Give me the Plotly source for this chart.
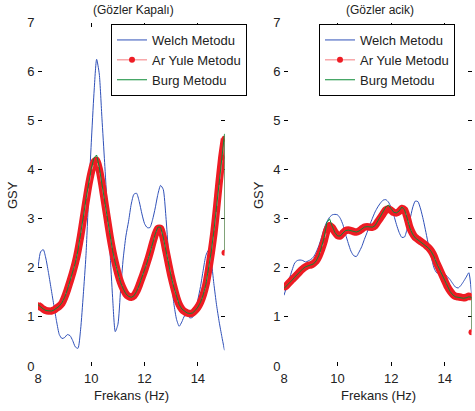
import plotly.graph_objects as go

# Frequency grid (Hz)
freq = [round(8.0 + 0.1 * i, 1) for i in range(71)]

# ---- Left panel: (Gözler Kapalı) ----
welch_closed = [2.00, 2.33, 2.37, 2.18, 1.88, 1.55, 1.22, 0.90, 0.64, 0.56,
                0.58, 0.64, 0.62, 0.52, 0.39, 0.36, 0.75, 1.45, 2.25, 3.45,
                4.55, 5.55, 6.25, 5.95, 5.05, 4.15, 3.25, 2.35, 1.40, 0.70,
                0.85, 1.55, 2.20, 2.65, 2.95, 3.30, 3.50, 3.52, 3.35, 3.10,
                2.90, 2.82, 2.82, 2.98, 3.22, 3.50, 3.68, 3.60, 3.05, 2.30,
                1.75, 1.27, 0.95, 0.81, 0.90, 1.02, 1.03, 0.98, 0.99, 1.10,
                1.35, 1.62, 1.95, 2.25, 2.36, 2.15, 1.68, 1.25, 0.90, 0.60,
                0.32]
yule_closed = [1.24, 1.20, 1.16, 1.13, 1.12, 1.12, 1.14, 1.18, 1.22, 1.28,
               1.40, 1.55, 1.72, 1.90, 2.10, 2.35, 2.65, 3.00, 3.35, 3.68,
               3.95, 4.15, 4.19, 4.00, 3.70, 3.35, 3.00, 2.65, 2.35, 2.10,
               1.88, 1.70, 1.57, 1.47, 1.42, 1.40, 1.43, 1.52, 1.65, 1.80,
               1.95, 2.12, 2.30, 2.50, 2.68, 2.80, 2.80, 2.62, 2.35, 2.08,
               1.82, 1.60, 1.40, 1.25, 1.16, 1.11, 1.08, 1.07, 1.08, 1.13,
               1.20, 1.30, 1.45, 1.65, 1.95, 2.30, 2.70, 3.20, 3.75, 4.25,
               4.63]
yule_closed_end = 2.31
burg_closed = [1.25, 1.20, 1.16, 1.13, 1.12, 1.12, 1.14, 1.18, 1.22, 1.29,
               1.40, 1.55, 1.72, 1.90, 2.10, 2.36, 2.67, 3.03, 3.40, 3.75,
               4.02, 4.24, 4.30, 4.05, 3.72, 3.36, 3.00, 2.65, 2.35, 2.10,
               1.88, 1.70, 1.57, 1.47, 1.42, 1.40, 1.43, 1.52, 1.65, 1.80,
               1.95, 2.12, 2.30, 2.50, 2.69, 2.83, 2.83, 2.63, 2.35, 2.08,
               1.82, 1.60, 1.40, 1.25, 1.16, 1.11, 1.08, 1.07, 1.08, 1.13,
               1.20, 1.30, 1.45, 1.66, 1.96, 2.32, 2.74, 3.25, 3.82, 4.32,
               4.73]
burg_closed_end = 2.36

# ---- Right panel: (Gözler acik) ----
welch_open = [1.44, 1.62, 1.78, 1.95, 2.10, 2.15, 2.16, 2.15, 2.12, 2.14,
              2.17, 2.22, 2.32, 2.45, 2.62, 2.80, 2.94, 3.03, 3.08, 3.09,
              3.08, 3.01, 2.88, 2.68, 2.50, 2.34, 2.25, 2.23, 2.32, 2.43,
              2.58, 2.72, 2.87, 3.01, 3.14, 3.24, 3.32, 3.38, 3.39, 3.34,
              3.23, 3.07, 2.88, 2.72, 2.62, 2.63, 2.80, 2.98, 3.22, 3.36,
              3.35, 3.20, 2.98, 2.72, 2.45, 2.22, 2.00, 1.90, 1.89, 1.89,
              1.88, 1.82, 1.76, 1.68, 1.61, 1.59, 1.64, 1.72, 1.81, 1.90,
              1.48]
yule_open = [1.60, 1.64, 1.70, 1.76, 1.81, 1.87, 1.93, 1.98, 2.02, 2.05,
             2.06, 2.09, 2.14, 2.24, 2.38, 2.55, 2.76, 2.86, 2.82, 2.73,
             2.66, 2.65, 2.71, 2.76, 2.77, 2.76, 2.74, 2.73, 2.75, 2.79,
             2.83, 2.84, 2.83, 2.83, 2.86, 2.94, 3.02, 3.10, 3.18, 3.20,
             3.17, 3.13, 3.12, 3.15, 3.21, 3.18, 3.02, 2.82, 2.70, 2.62,
             2.58, 2.54, 2.50, 2.46, 2.41, 2.34, 2.24, 2.10, 1.98, 1.86,
             1.74, 1.62, 1.53, 1.46, 1.42, 1.41, 1.40, 1.39, 1.40, 1.42,
             1.41]
yule_open_end = 0.69
burg_open = [1.58, 1.63, 1.69, 1.75, 1.81, 1.87, 1.93, 1.98, 2.02, 2.04,
             2.05, 2.08, 2.14, 2.25, 2.42, 2.62, 2.92, 3.00, 2.85, 2.72,
             2.65, 2.65, 2.71, 2.76, 2.77, 2.76, 2.74, 2.73, 2.75, 2.79,
             2.83, 2.84, 2.83, 2.83, 2.86, 2.95, 3.04, 3.13, 3.24, 3.28,
             3.20, 3.13, 3.12, 3.16, 3.24, 3.18, 3.01, 2.81, 2.69, 2.61,
             2.57, 2.53, 2.49, 2.45, 2.40, 2.33, 2.23, 2.09, 1.97, 1.85,
             1.73, 1.61, 1.52, 1.45, 1.41, 1.40, 1.39, 1.38, 1.39, 1.41,
             1.40]
burg_open_end = 0.75

x_ticks = [8, 10, 12, 14]
y_ticks = [0, 1, 2, 3, 4, 5, 6, 7]

BLUE = "#2f50b8"
RED = "#ee1c24"
GREEN = "#0b8a35"
FONT = "Liberation Sans, Arial, sans-serif"

W, H = 475, 411


def px(x):
    return x / W


def py(y):
    return (H - y) / H


fig = go.Figure()


def add_panel(xa, ya, legend, welch, yule, yule_end, burg, burg_end):
    fx = freq + [15.0]
    fig.add_trace(go.Scatter(x=freq, y=welch, mode="lines", name="Welch Metodu",
                             line=dict(color=BLUE, width=1, shape="spline", smoothing=0.6),
                             xaxis=xa, yaxis=ya, legend=legend, zorder=0))
    fig.add_trace(go.Scatter(x=fx, y=yule + [yule_end], mode="lines+markers",
                             name="Ar Yule Metodu",
                             line=dict(color="#f47a7e", width=1),
                             marker=dict(color=RED, size=6),
                             xaxis=xa, yaxis=ya, legend=legend, zorder=2))
    fig.add_trace(go.Scatter(x=fx, y=burg + [burg_end], mode="lines", name="Burg Metodu",
                             line=dict(color=GREEN, width=1),
                             xaxis=xa, yaxis=ya, legend=legend, zorder=3))


def add_band(xa, ya, yule):
    # thick band formed by the dense Yule markers
    fig.add_trace(go.Scatter(x=freq, y=yule, mode="lines", showlegend=False,
                             line=dict(color=RED, width=7.5, shape="spline", smoothing=0.6),
                             hoverinfo="skip", xaxis=xa, yaxis=ya, legend="legend3", zorder=1))


add_panel("x", "y", "legend", welch_closed, yule_closed, yule_closed_end,
          burg_closed, burg_closed_end)
add_panel("x2", "y2", "legend2", welch_open, yule_open, yule_open_end,
          burg_open, burg_open_end)
add_band("x", "y", yule_closed)
add_band("x2", "y2", yule_open)

axis_common = dict(showgrid=False, zeroline=False, showline=True, linecolor="black",
                   linewidth=1, mirror="ticks", ticks="inside", ticklen=4,
                   tickcolor="black", automargin=False,
                   tickfont=dict(family=FONT, size=13, color="#222"))

legend_common = dict(xanchor="left", yanchor="middle", bordercolor="black", borderwidth=1,
                     bgcolor="white", font=dict(family=FONT, size=13, color="#222"),
                     tracegroupgap=0)

fig.update_layout(
    template="none",
    width=W, height=H, margin=dict(l=0, r=0, t=0, b=0, autoexpand=False),
    paper_bgcolor="white", plot_bgcolor="white",
    font=dict(family=FONT, size=13, color="#222"),
    xaxis=dict(domain=[px(38), px(224.5)], range=[8, 15], tickvals=x_ticks, anchor="y", **axis_common),
    yaxis=dict(domain=[py(366), py(22.5)], range=[0, 7], tickvals=y_ticks, anchor="x", **axis_common),
    xaxis2=dict(domain=[px(284), px(471.5)], range=[8, 15], tickvals=x_ticks, anchor="y2", **axis_common),
    yaxis2=dict(domain=[py(366), py(22.5)], range=[0, 7], tickvals=y_ticks, anchor="x2", **axis_common),
    legend=dict(x=px(111), y=py(60), **legend_common),
    legend2=dict(x=px(319), y=py(60), **legend_common),
    legend3=dict(visible=False),
    showlegend=True,
)

annots = [
    dict(text="(Gözler Kapalı)", x=133, y=10, size=12),
    dict(text="(Gözler acik)", x=379.5, y=10, size=12),
    dict(text="Frekans (Hz)", x=131, y=395, size=13),
    dict(text="Frekans (Hz)", x=378, y=395, size=13),
]
for a in annots:
    fig.add_annotation(text=a["text"], x=px(a["x"]), y=py(a["y"]), xref="paper", yref="paper",
                       showarrow=False, xanchor="center", yanchor="middle",
                       font=dict(family=FONT, size=a["size"], color="#222"))
for xx in [12, 258]:
    fig.add_annotation(text="GSY", x=px(xx), y=py(195), xref="paper", yref="paper",
                       showarrow=False, textangle=-90, xanchor="center", yanchor="middle",
                       font=dict(family=FONT, size=13, color="#222"))

# remove the browser's default 8px body margin so the figure fills the window
fig.write_html("out.html", config={"displayModeBar": False},
               post_script="document.body.style.margin='0px';")
